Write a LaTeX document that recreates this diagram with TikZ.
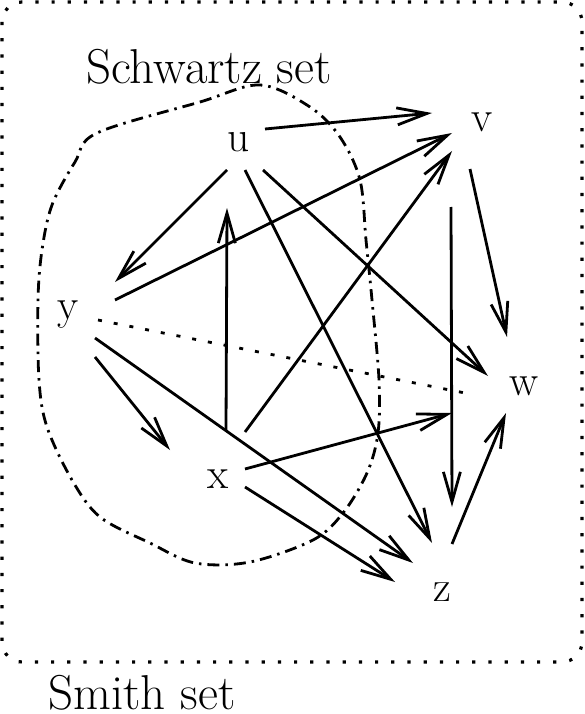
\documentclass[tikz,border=0pt]{standalone}
\usepackage{tikz}
\usetikzlibrary{arrows.meta}

\begin{document}
\begin{tikzpicture}[
  x=1pt, y=-1pt,
  vtx/.style={inner sep=0pt, font=\fontsize{43.5}{50}\selectfont},
  lbl/.style={inner sep=0pt, anchor=base, font=\fontsize{49}{56}\selectfont},
  arr/.style={-{Straight Barb[length=30pt, width=17pt]}, line width=2.8pt},
  tie/.style={line width=2.8pt, dash pattern=on 4pt off 12pt},
  smith/.style={line width=3.2pt, dash pattern=on 3.2pt off 13pt, rounded corners=20pt},
  schwartz/.style={line width=2.8pt, dash pattern=on 12pt off 6pt on 2.5pt off 6pt}
]
\useasboundingbox (0,0) rectangle (584,714);

% Smith set
\draw[smith] (2,2) rectangle (582,662);
\node[lbl] (smithlbl) at (142,709) {Smith set};

% Schwartz set
\draw[schwartz] plot[smooth cycle, tension=0.55] coordinates {
  (97,133) (200,102) (260,85) (310,107) (340,137) (360,180)
  (366,240) (372,300) (379,380) (378,433) (367,473) (343,513)
  (313,540) (250,562) (195,563) (150,543) (100,517) (72,480)
  (47,427) (39,380) (38,300) (42,250) (52,205) (75,162)};
\node[lbl] (schwartzlbl) at (209,84) {Schwartz set};

% Candidates
\node[vtx] (u) at (239,142) {u};
\node[vtx] (v) at (482,122) {v};
\node[vtx] (y) at (68,315) {y};
\node[vtx] (w) at (524,386) {w};
\node[vtx] (x) at (218,479) {x};
\node[vtx] (z) at (442,592) {z};

% Arrows
\draw[arr] ([shift={(26,-13)}]u.center) -- ([shift={(-50,-9)}]v.center);
\draw[arr] ([shift={(-12,28)}]u.center) -- ([shift={(47,-33)}]y.center);
\draw[arr] ([shift={(6,28)}]u.center) -- ([shift={(-10,-49)}]z.center);
\draw[arr] ([shift={(24,28)}]u.center) -- ([shift={(-36,-10)}]w.center);
\draw[arr] ([shift={(47,-15)}]y.center) -- ([shift={(-30,11)}]v.center);
\draw[arr] ([shift={(27,42)}]y.center) -- ([shift={(-48,-29)}]x.center);
\draw[arr] ([shift={(27,23)}]y.center) -- ([shift={(-29,-29)}]z.center);
\draw[tie] ([shift={(30,5)}]y.center) -- ([shift={(-54,8)}]w.center);
\draw[arr] ([shift={(8,-49)}]x.center) -- ([shift={(-12,66)}]u.center);
\draw[arr] ([shift={(27,-47)}]x.center) -- ([shift={(-30,29)}]v.center);
\draw[arr] ([shift={(27,-10)}]x.center) -- ([shift={(-72,27)}]w.center);
\draw[arr] ([shift={(27,8)}]x.center) -- ([shift={(-47,-10)}]z.center);
\draw[arr] ([shift={(-12,47)}]v.center) -- ([shift={(-17,-49)}]w.center);
\draw[arr] ([shift={(-31,85)}]v.center) -- ([shift={(10,-85)}]z.center);
\draw[arr] ([shift={(10,-48)}]z.center) -- ([shift={(-18,27)}]w.center);
\end{tikzpicture}
\end{document}
